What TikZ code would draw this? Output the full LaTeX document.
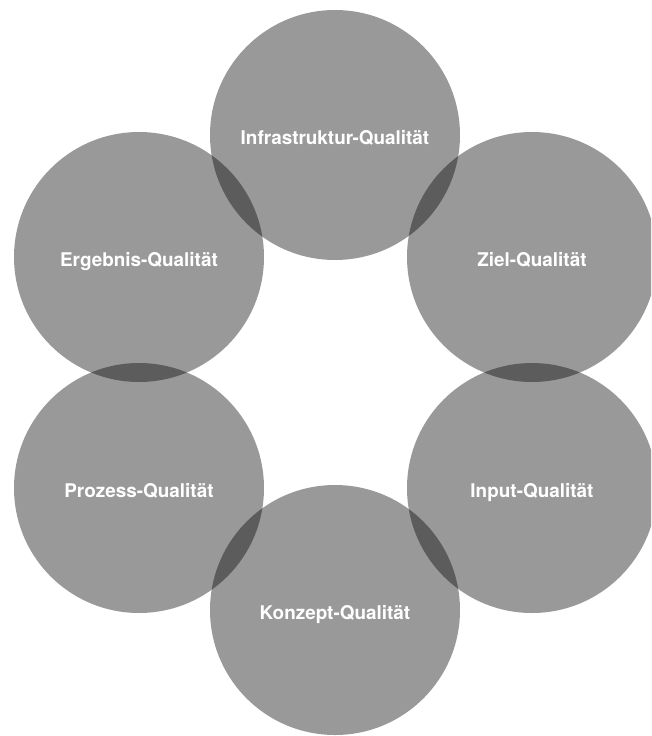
\documentclass[tikz,border=0pt]{standalone}
\usepackage{fontspec}
\setmainfont{TeX Gyre Heros}
\usepackage{tikz}
\usetikzlibrary{positioning}

\newcommand{\qlabel}[1]{\raisebox{-9.5pt}[0pt][0pt]{#1}}

\begin{document}
\begin{tikzpicture}[x=1pt,y=-1pt]
          \path[use as bounding box,clip] (0,0) rectangle (651,736);
          \begin{scope}[every node/.style={circle,fill=black,fill opacity=0.4,text opacity=1,
              text=white,minimum size=250pt,inner sep=0pt,
              font=\fontsize{18.9}{20}\selectfont\bfseries}]
            \node (infra) at (335, 135) {\qlabel{Infrastruktur-Qualität}};
            \node (ziel) at (532, 257) {\qlabel{Ziel-Qualität}};
            \node (input) at (532, 488) {\qlabel{Input-Qualität}};
            \node (konzept) at (335, 610) {\qlabel{Konzept-Qualität}};
            \node (prozess) at (139, 488) {\qlabel{Prozess-Qualität}};
            \node (ergebnis) at (139, 257) {\qlabel{Ergebnis-Qualität}};
          \end{scope}
        \end{tikzpicture}
\end{document}
